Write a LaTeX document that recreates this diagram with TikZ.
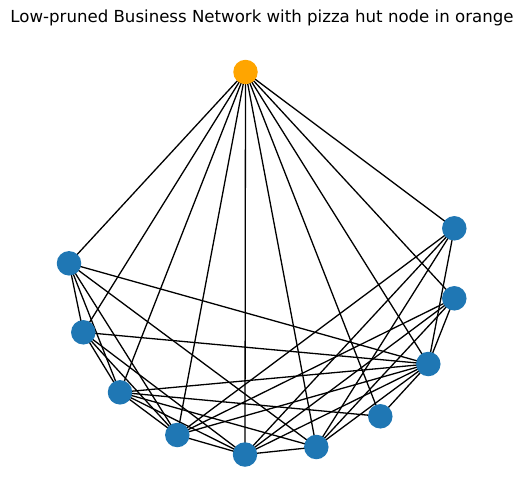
\documentclass[tikz,border=0pt]{standalone}
\usepackage{fontspec}
\setmainfont{DejaVu Sans}
\definecolor{nodeblue}{HTML}{1F77B4}
\definecolor{nodeorange}{HTML}{FFA500}
\pgfdeclarelayer{edgelayer}
\pgfsetlayers{edgelayer,main}
\tikzset{
  netnode/.style={circle, fill=nodeblue, draw=none, minimum size=24.5pt, inner sep=0pt},
  hubnode/.style={circle, fill=nodeorange, draw=none, minimum size=24.5pt, inner sep=0pt},
  edge/.style={draw=black, line width=1.3pt},
  titletext/.style={font=\fontsize{16.6}{20}\selectfont, inner sep=0pt}
}
\begin{document}
\begin{tikzpicture}[x=1pt, y=-1pt]
\useasboundingbox (0,0) rectangle (523,504);
\node[titletext] (title) at (262,18) {Low-pruned Business Network with pizza hut node in orange};
\node[hubnode] (P) at (245.5,72) {};
\node[netnode] (A) at (454.3,228.3) {};
\node[netnode] (B) at (454.3,298.3) {};
\node[netnode] (C) at (428.3,364) {};
\node[netnode] (D) at (380.3,416.3) {};
\node[netnode] (E) at (316.3,447) {};
\node[netnode] (F) at (245,454.5) {};
\node[netnode] (G) at (177.3,435) {};
\node[netnode] (H) at (120,392.3) {};
\node[netnode] (I) at (83.3,332.3) {};
\node[netnode] (J) at (69,263.3) {};
\begin{pgfonlayer}{edgelayer}
\foreach \a/\b in {P/A,P/B,P/C,P/D,P/E,P/F,P/G,P/H,P/I,P/J,
  J/I,J/H,J/G,J/E,J/C,
  I/H,I/G,I/F,I/C,
  H/G,H/F,H/E,H/D,H/C,
  G/F,G/C,G/B,G/A,
  F/E,F/C,F/B,F/A,
  E/C,E/B,E/A,
  D/C,
  C/A,C/B}
  \draw[edge] (\a.center) -- (\b.center);
\end{pgfonlayer}
\end{tikzpicture}
\end{document}
